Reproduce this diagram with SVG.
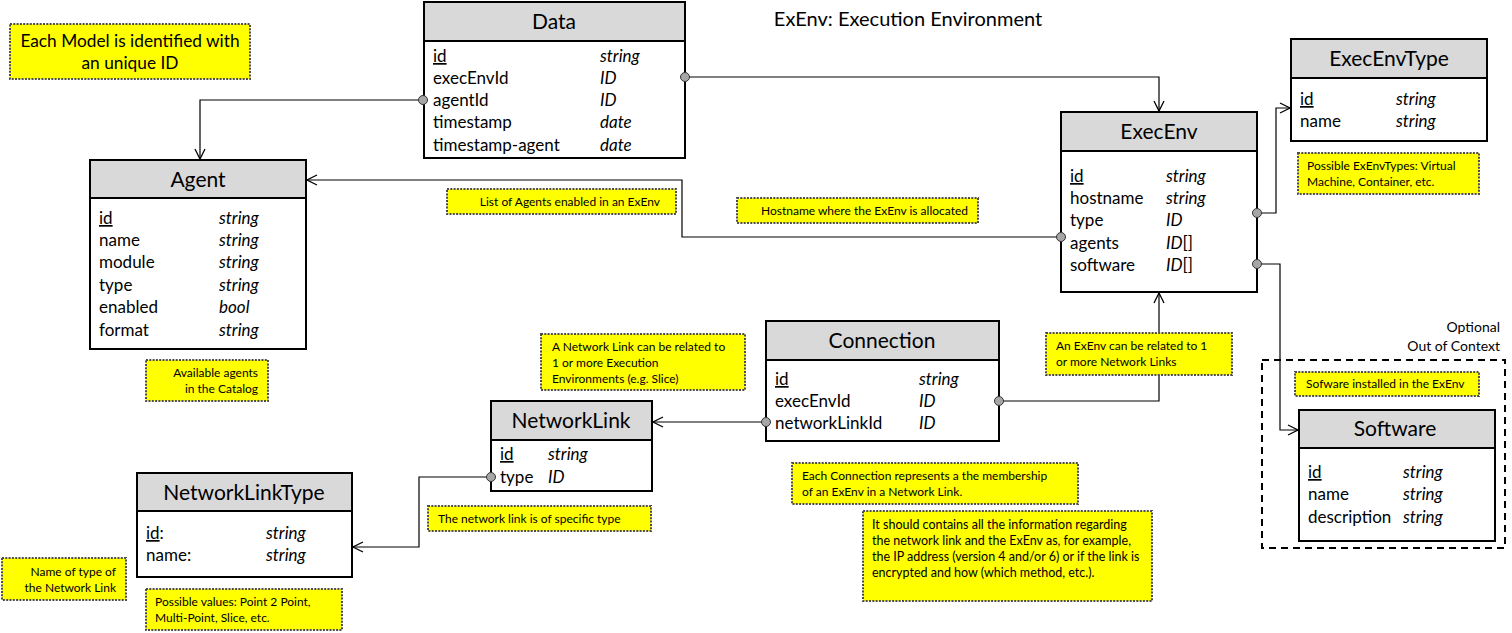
<svg xmlns="http://www.w3.org/2000/svg" width="1512" height="633" viewBox="0 0 1512 633">
<defs>
<marker id="arr" viewBox="0 0 12 12" refX="11" refY="6" markerWidth="12" markerHeight="12" markerUnits="userSpaceOnUse" orient="auto">
<path d="M1,1 L11,6 L1,11" fill="none" stroke="#000" stroke-width="1.3"/>
</marker>
</defs>
<style>
text{font-family:Lato,"Open Sans","Liberation Sans",sans-serif;fill:#000}
.box{fill:#fff;stroke:#000;stroke-width:2}
.hdr{fill:#d9d9d9;stroke:#000;stroke-width:2}
.ttl{font-size:21px;text-anchor:middle}
.f{font-size:17px}
.t{font-size:17px;font-style:italic}
.u{text-decoration:underline}
.note{fill:#ffff00;stroke:#4d4d4d;stroke-width:2;stroke-dasharray:2 1.3}
.nt{font-size:12px}
.nr{font-size:12px;text-anchor:end}
.ni{font-size:12.5px}
.conn{fill:none;stroke:#000;stroke-width:1.2}
.dot{fill:#a6a6a6;stroke:#333;stroke-width:1}
</style>
<rect width="1512" height="633" fill="#fff"/>
<text x="908" y="26" style="font-size:20px" text-anchor="middle">ExEnv: Execution Environment</text>

<g id="connectors">
<path class="conn" d="M423,100 H200 V159" marker-end="url(#arr)"/>
<path class="conn" d="M685,77 H1159 V111" marker-end="url(#arr)"/>
<path class="conn" d="M1061,237 H682 V180 H307" marker-end="url(#arr)"/>
<path class="conn" d="M1257,213 H1276 V108 H1290" marker-end="url(#arr)"/>
<path class="conn" d="M1257,264 H1280 V430 H1298" marker-end="url(#arr)"/>
<path class="conn" d="M999,401 H1159 V293" marker-end="url(#arr)"/>
<path class="conn" d="M766,422 H653" marker-end="url(#arr)"/>
<path class="conn" d="M491,477 H419 V547 H353" marker-end="url(#arr)"/>
</g>

<g id="note-model">
<rect class="note" x="10" y="24" width="240" height="55"/>
<text x="130" y="47" text-anchor="middle" style="font-size:17.3px">Each Model is identified with</text>
<text x="130" y="69" text-anchor="middle" style="font-size:17.3px">an unique ID</text>
</g>

<g id="Data">
<rect class="box" x="424" y="2" width="261" height="156"/>
<rect class="hdr" x="424" y="2" width="261" height="39"/>
<text class="ttl" x="554" y="29">Data</text>
<text class="f u" x="433" y="62">id</text><text class="t" x="600" y="62">string</text>
<text class="f" x="433" y="84">execEnvId</text><text class="t" x="600" y="84">ID</text>
<text class="f" x="433" y="106">agentId</text><text class="t" x="600" y="106">ID</text>
<text class="f" x="433" y="128">timestamp</text><text class="t" x="600" y="128">date</text>
<text class="f" x="433" y="151">timestamp-agent</text><text class="t" x="600" y="151">date</text>
</g>

<g id="Agent">
<rect class="box" x="90" y="160" width="216" height="189"/>
<rect class="hdr" x="90" y="160" width="216" height="38"/>
<text class="ttl" x="198" y="187">Agent</text>
<text class="f u" x="99" y="224">id</text><text class="t" x="219" y="224">string</text>
<text class="f" x="99" y="246">name</text><text class="t" x="219" y="246">string</text>
<text class="f" x="99" y="268">module</text><text class="t" x="219" y="268">string</text>
<text class="f" x="99" y="291">type</text><text class="t" x="219" y="291">string</text>
<text class="f" x="99" y="313">enabled</text><text class="t" x="219" y="313">bool</text>
<text class="f" x="99" y="336">format</text><text class="t" x="219" y="336">string</text>
</g>

<g id="note-agents">
<rect class="note" x="146" y="360" width="122" height="41"/>
<text class="nr" x="258" y="377">Available agents</text>
<text class="nr" x="258" y="393">in the Catalog</text>
</g>

<g id="ExecEnv">
<rect class="box" x="1061" y="112" width="196" height="180"/>
<rect class="hdr" x="1061" y="112" width="196" height="39"/>
<text class="ttl" x="1159" y="139">ExecEnv</text>
<text class="f u" x="1070" y="182">id</text><text class="t" x="1166" y="182">string</text>
<text class="f" x="1070" y="204">hostname</text><text class="t" x="1166" y="204">string</text>
<text class="f" x="1070" y="226">type</text><text class="t" x="1166" y="226">ID</text>
<text class="f" x="1070" y="249">agents</text><text class="f" x="1166" y="249"><tspan font-style="italic">ID</tspan>[]</text>
<text class="f" x="1070" y="271">software</text><text class="f" x="1166" y="271"><tspan font-style="italic">ID</tspan>[]</text>
</g>

<g id="ExecEnvType">
<rect class="box" x="1291" y="39" width="196" height="102"/>
<rect class="hdr" x="1291" y="39" width="196" height="39"/>
<text class="ttl" x="1389" y="66">ExecEnvType</text>
<text class="f u" x="1300" y="105">id</text><text class="t" x="1396" y="105">string</text>
<text class="f" x="1300" y="127">name</text><text class="t" x="1396" y="127">string</text>
</g>

<g id="note-exenvtypes">
<rect class="note" x="1298" y="153" width="181" height="41"/>
<text class="nt" x="1307" y="170">Possible ExEnvTypes: Virtual</text>
<text class="nt" x="1307" y="186">Machine, Container, etc.</text>
</g>

<g id="note-agentlist">
<rect class="note" x="447" y="189" width="229" height="25"/>
<text class="nr" x="660" y="206">List of Agents enabled in an ExEnv</text>
</g>

<g id="note-hostname">
<rect class="note" x="737" y="198" width="241" height="25"/>
<text class="nr" x="968" y="215">Hostname where the ExEnv is allocated</text>
</g>

<g id="Connection">
<rect class="box" x="766" y="321" width="233" height="120"/>
<rect class="hdr" x="766" y="321" width="233" height="39"/>
<text class="ttl" x="882" y="348">Connection</text>
<text class="f u" x="775" y="385">id</text><text class="t" x="919" y="385">string</text>
<text class="f" x="775" y="407">execEnvId</text><text class="t" x="919" y="407">ID</text>
<text class="f" x="775" y="429">networkLinkId</text><text class="t" x="919" y="429">ID</text>
</g>

<g id="note-netlink">
<rect class="note" x="541" y="334" width="204" height="56"/>
<text class="nt" x="552" y="351">A Network Link can be related to</text>
<text class="nt" x="552" y="367">1 or more Execution</text>
<text class="nt" x="552" y="383">Environments (e.g. Slice)</text>
</g>

<g id="note-exenv-netlinks">
<rect class="note" x="1046" y="333" width="186" height="42"/>
<text class="nt" x="1056" y="350">An ExEnv can be related to 1</text>
<text class="nt" x="1056" y="366">or more Network Links</text>
</g>

<g id="NetworkLink">
<rect class="box" x="491" y="401" width="161" height="90"/>
<rect class="hdr" x="491" y="401" width="161" height="39"/>
<text class="ttl" x="571" y="428">NetworkLink</text>
<text class="f u" x="500" y="460">id</text><text class="t" x="548" y="460">string</text>
<text class="f" x="500" y="483">type</text><text class="t" x="548" y="483">ID</text>
</g>

<g id="NetworkLinkType">
<rect class="box" x="137" y="473" width="215" height="104"/>
<rect class="hdr" x="137" y="473" width="215" height="38"/>
<text class="ttl" x="244" y="500">NetworkLinkType</text>
<text class="f" x="146" y="539"><tspan text-decoration="underline">id</tspan>:</text><text class="t" x="266" y="539">string</text>
<text class="f" x="146" y="561">name:</text><text class="t" x="266" y="561">string</text>
</g>

<g id="note-nltype">
<rect class="note" x="428" y="506" width="223" height="25"/>
<text class="nt" x="438" y="523">The network link is of specific type</text>
</g>

<g id="note-nlname">
<rect class="note" x="2" y="558" width="124" height="42"/>
<text class="nr" x="116" y="576">Name of type of</text>
<text class="nr" x="116" y="592">the Network Link</text>
</g>

<g id="note-values">
<rect class="note" x="146" y="589" width="196" height="41"/>
<text class="nt" x="155" y="606">Possible values: Point 2 Point,</text>
<text class="nt" x="155" y="622">Multi-Point, Slice, etc.</text>
</g>

<g id="note-membership">
<rect class="note" x="792" y="463" width="286" height="41"/>
<text class="nt" x="802" y="480">Each Connection represents a the membership</text>
<text class="nt" x="802" y="496">of an ExEnv in a Network Link.</text>
</g>

<g id="note-info">
<rect class="note" x="863" y="511" width="289" height="90"/>
<text class="ni" x="872" y="529">It should contains all the information regarding</text>
<text class="ni" x="872" y="545">the network link and the ExEnv as, for example,</text>
<text class="ni" x="872" y="561">the IP address (version 4 and/or 6) or if the link is</text>
<text class="ni" x="872" y="577">encrypted and how (which method, etc.).</text>
</g>

<g id="optional">
<rect x="1262" y="360" width="243" height="188" fill="none" stroke="#000" stroke-width="2" stroke-dasharray="7 5"/>
<text x="1500" y="332" text-anchor="end" style="font-size:14px">Optional</text>
<text x="1500" y="351" text-anchor="end" style="font-size:14px">Out of Context</text>
</g>

<g id="note-software">
<rect class="note" x="1295" y="372" width="184" height="24"/>
<text class="nt" x="1306" y="388">Sofware installed in the ExEnv</text>
</g>

<g id="Software">
<rect class="box" x="1299" y="410" width="196" height="131"/>
<rect class="hdr" x="1299" y="410" width="196" height="38"/>
<text class="ttl" x="1395" y="436">Software</text>
<text class="f u" x="1308" y="478">id</text><text class="t" x="1403" y="478">string</text>
<text class="f" x="1308" y="500">name</text><text class="t" x="1403" y="500">string</text>
<text class="f" x="1308" y="523">description</text><text class="t" x="1403" y="523">string</text>
</g>

<g id="connector-ends">
<circle class="dot" cx="423" cy="100" r="4.5"/>
<circle class="dot" cx="685" cy="77" r="4.5"/>
<circle class="dot" cx="1061" cy="237" r="4.5"/>
<circle class="dot" cx="1257" cy="213" r="4.5"/>
<circle class="dot" cx="1257" cy="264" r="4.5"/>
<circle class="dot" cx="999" cy="401" r="4.5"/>
<circle class="dot" cx="766" cy="422" r="4.5"/>
<circle class="dot" cx="491" cy="477" r="4.5"/>
</g>
</svg>
